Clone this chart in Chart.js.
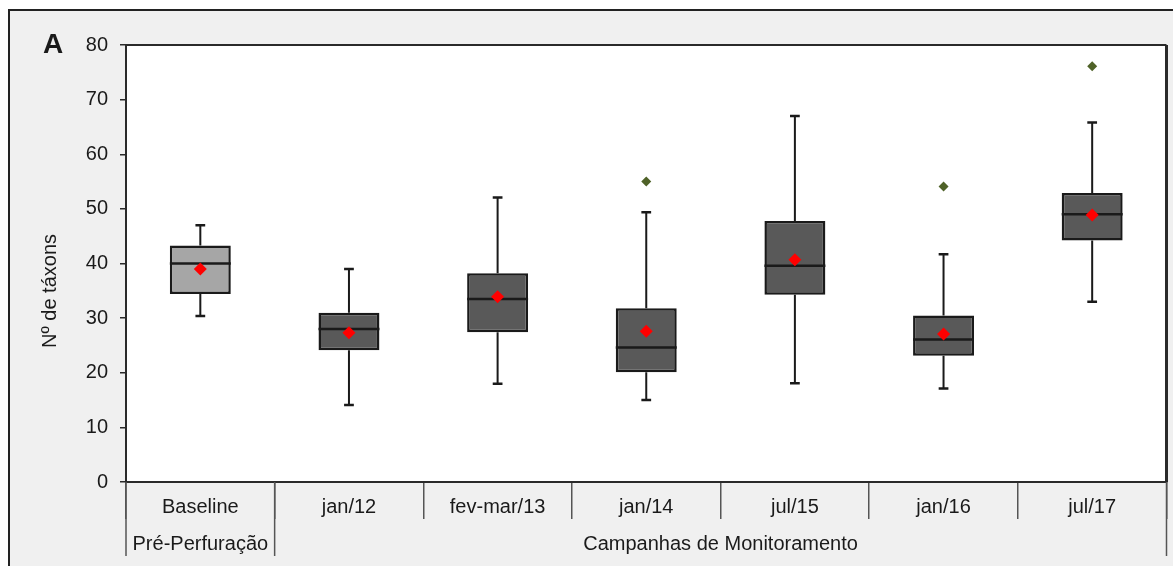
<!DOCTYPE html>
<html>
<head>
<meta charset="utf-8">
<script src="https://cdn.jsdelivr.net/npm/chart.js@4.4.1/dist/chart.umd.min.js"></script>
<style>
  html, body { margin: 0; padding: 0; background: #ffffff; }
  #wrap { width: 1173px; height: 566px; }
</style>
</head>
<body>
<div id="wrap"><canvas id="chart" width="1173" height="566"></canvas></div>
<script>
// data
var categories = ['Baseline', 'jan/12', 'fev-mar/13', 'jan/14', 'jul/15', 'jan/16', 'jul/17'];
var groupLabels = ['Pré-Perfuração', 'Campanhas de Monitoramento'];
var groupSizes = [1, 6];

var whiskerLow  = [30.4, 14.1, 18.0, 15.0, 18.1, 17.1, 33.0];
var quartile1   = [34.4, 24.1, 27.4, 20.1, 34.3, 23.1, 44.2];
var medians     = [40.0, 28.0, 33.5, 24.6, 39.6, 26.1, 49.0];
var quartile3   = [43.3, 31.0, 38.2, 31.8, 47.8, 30.5, 52.9];
var whiskerHigh = [47.0, 39.0, 52.1, 49.4, 67.0, 41.7, 65.8];
var means       = [39.0, 27.3, 33.9, 27.6, 40.7, 27.1, 48.9];
var outliers    = [null, null, null, 55.0, null, 54.1, 76.1];

var yMin = 0, yMax = 80, yStep = 10;

var FONT = 'Arial, "Liberation Sans", sans-serif';
var TEXT = '#1a1a1a';

var boxData = categories.map(function (c, i) { return [quartile1[i], quartile3[i]]; });
var boxColors = categories.map(function (c, i) { return i === 0 ? '#a6a6a6' : '#595959'; });

var boxPlugin = {
  id: 'boxExtras',
  beforeDraw: function (chart) {
    var ctx = chart.ctx, a = chart.chartArea;
    ctx.save();
    ctx.fillStyle = '#ffffff';
    ctx.fillRect(0, 0, chart.width, chart.height);
    // outer frame
    ctx.fillStyle = '#f0f0f0';
    ctx.fillRect(9, 10, chart.width + 20, chart.height + 20);
    ctx.strokeStyle = '#222';
    ctx.lineWidth = 2;
    ctx.strokeRect(9, 10, chart.width + 20, chart.height + 20);
    // plot area
    ctx.fillStyle = '#ffffff';
    ctx.fillRect(a.left, a.top, a.right - a.left, a.bottom - a.top);
    ctx.restore();
  },
  afterDatasetDraw: function (chart, args) {
    if (chart.data.datasets[args.index].id !== 'box') return;
    var ctx = chart.ctx;
    var y = chart.scales.y;
    var meta = args.meta;
    ctx.save();
    ctx.strokeStyle = '#1a1a1a';
    meta.data.forEach(function (bar, i) {
      var x = bar.x, half = bar.width / 2, cap = bar.width * 0.08;
      // whiskers
      ctx.lineWidth = 2;
      ctx.beginPath();
      ctx.moveTo(x, y.getPixelForValue(quartile3[i]));
      ctx.lineTo(x, y.getPixelForValue(whiskerHigh[i]));
      ctx.moveTo(x, y.getPixelForValue(quartile1[i]));
      ctx.lineTo(x, y.getPixelForValue(whiskerLow[i]));
      ctx.stroke();
      ctx.lineWidth = 2.5;
      ctx.beginPath();
      ctx.moveTo(x - cap, y.getPixelForValue(whiskerHigh[i]));
      ctx.lineTo(x + cap, y.getPixelForValue(whiskerHigh[i]));
      ctx.moveTo(x - cap, y.getPixelForValue(whiskerLow[i]));
      ctx.lineTo(x + cap, y.getPixelForValue(whiskerLow[i]));
      ctx.stroke();
      // median
      ctx.lineWidth = 2.5;
      ctx.beginPath();
      ctx.moveTo(x - half, y.getPixelForValue(medians[i]));
      ctx.lineTo(x + half, y.getPixelForValue(medians[i]));
      ctx.stroke();
    });
    ctx.restore();
  },
  afterDraw: function (chart) {
    var ctx = chart.ctx, a = chart.chartArea, xs = chart.scales.x;
    ctx.save();
    // top and right border of plot
    ctx.strokeStyle = '#2a2a2a';
    ctx.lineWidth = 2;
    ctx.beginPath();
    ctx.moveTo(a.left, a.top);
    ctx.lineTo(a.right, a.top);
    ctx.stroke();
    ctx.lineWidth = 3;
    ctx.beginPath();
    ctx.moveTo(a.right, a.top);
    ctx.lineTo(a.right, a.bottom);
    ctx.stroke();

    // second level of the category axis
    var step = xs.getPixelForValue(1) - xs.getPixelForValue(0);
    var start = 0;
    ctx.strokeStyle = '#555';
    ctx.lineWidth = 1.5;
    ctx.fillStyle = TEXT;
    ctx.font = '20px ' + FONT;
    ctx.textAlign = 'center';
    ctx.textBaseline = 'middle';
    var edges = [xs.getPixelForValue(0) - step / 2];
    groupLabels.forEach(function (g, k) {
      var first = xs.getPixelForValue(start) - step / 2;
      var last = xs.getPixelForValue(start + groupSizes[k] - 1) + step / 2;
      edges.push(last);
      ctx.fillText(g, (first + last) / 2, 544);
      start += groupSizes[k];
    });
    ctx.beginPath();
    edges.forEach(function (ex) {
      ctx.moveTo(ex, a.bottom);
      ctx.lineTo(ex, 556);
    });
    ctx.stroke();

    // panel letter and y title
    ctx.font = 'bold 28px ' + FONT;
    ctx.textBaseline = 'alphabetic';
    ctx.fillText('A', 53, 53);
    ctx.translate(50, 291);
    ctx.rotate(-Math.PI / 2);
    ctx.font = '20px ' + FONT;
    ctx.textBaseline = 'middle';
    ctx.fillText('Nº de táxons', 0, 0);
    ctx.restore();
  }
};

new Chart(document.getElementById('chart'), {
  type: 'bar',
  data: {
    labels: categories,
    datasets: [
      {
        type: 'line',
        label: 'Média',
        data: means,
        showLine: false,
        pointStyle: 'rectRot',
        pointRadius: 6.5,
        pointBackgroundColor: '#ff0000',
        pointBorderColor: '#ff0000',
        pointBorderWidth: 0,
        order: 1
      },
      {
        type: 'line',
        label: 'Outliers',
        data: outliers,
        showLine: false,
        pointStyle: 'rectRot',
        pointRadius: 5,
        pointBackgroundColor: '#4f6228',
        pointBorderColor: '#4f6228',
        pointBorderWidth: 0,
        order: 2
      },
      {
        id: 'box',
        label: 'Caixa',
        data: boxData,
        backgroundColor: boxColors,
        borderColor: '#1a1a1a',
        borderWidth: 2.5,
        borderSkipped: false,
        barPercentage: 0.41,
        categoryPercentage: 1.0,
        order: 3
      }
    ]
  },
  options: {
    responsive: false,
    animation: false,
    events: [],
    layout: { padding: { left: 0, top: 45, right: 3, bottom: 0 } },
    plugins: {
      legend: { display: false },
      tooltip: { enabled: false }
    },
    scales: {
      x: {
        offset: true,
        afterFit: function (s) { s.height = 84; },
        grid: {
          offset: true,
          drawOnChartArea: false,
          tickLength: 37,
          color: '#555',
          lineWidth: 1.5
        },
        border: { display: true, color: '#2a2a2a', width: 2 },
        ticks: {
          color: TEXT,
          font: { family: FONT, size: 20 },
          padding: -24,
          maxRotation: 0,
          autoSkip: false
        }
      },
      y: {
        min: yMin,
        max: yMax,
        afterFit: function (s) { s.width = 126; },
        grid: {
          drawOnChartArea: false,
          tickLength: 6,
          color: '#2a2a2a',
          lineWidth: 1.5
        },
        border: { display: true, color: '#2a2a2a', width: 2 },
        ticks: {
          stepSize: yStep,
          color: TEXT,
          font: { family: FONT, size: 20 },
          padding: 12
        }
      }
    }
  },
  plugins: [boxPlugin]
});
</script>
</body>
</html>
